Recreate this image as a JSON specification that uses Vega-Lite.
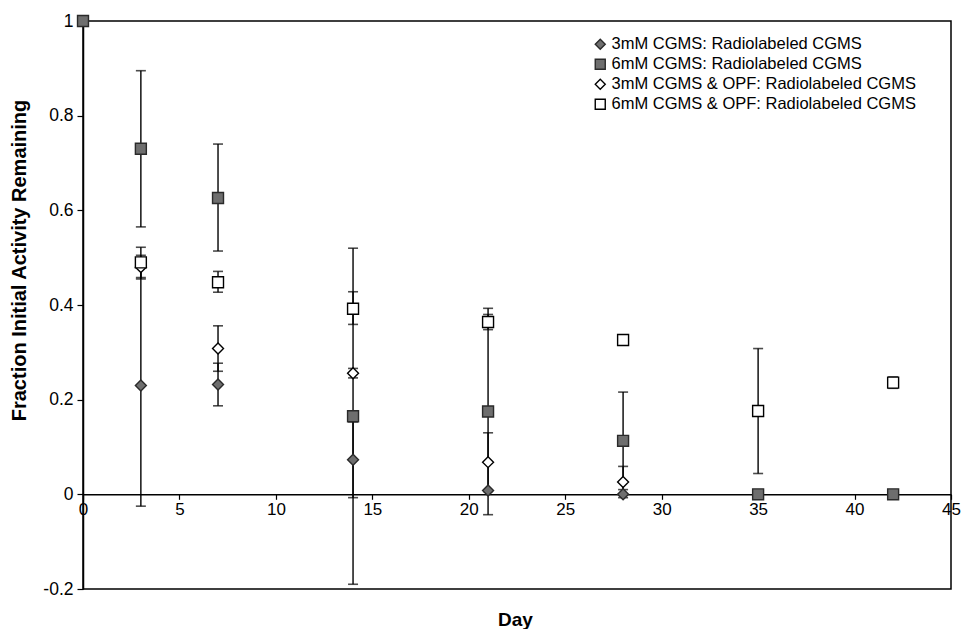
{
  "$schema": "https://vega.github.io/schema/vega-lite/v6.json",
  "autosize": "none",
  "width": 868,
  "height": 568,
  "padding": {"left": 83, "top": 21, "right": 11, "bottom": 40},
  "background": "white",
  "config": {
    "view": {"stroke": "black", "strokeWidth": 1.5},
    "font": "Liberation Sans",
    "axis": {"grid": false, "domainColor": "black", "tickColor": "black", "labelColor": "black", "titleColor": "black", "labelFont": "Liberation Sans", "titleFont": "Liberation Sans", "domainWidth": 1.5, "tickWidth": 1.2}
  },
  "data": {
    "values": [
      {"day": 3, "series": "3mM CGMS: Radiolabeled CGMS", "value": 0.23, "lo": -0.025, "hi": 0.485},
      {"day": 7, "series": "3mM CGMS: Radiolabeled CGMS", "value": 0.232, "lo": 0.187, "hi": 0.277},
      {"day": 14, "series": "3mM CGMS: Radiolabeled CGMS", "value": 0.073, "lo": -0.007, "hi": 0.153},
      {"day": 21, "series": "3mM CGMS: Radiolabeled CGMS", "value": 0.008},
      {"day": 28, "series": "3mM CGMS: Radiolabeled CGMS", "value": 0.0},
      {"day": 0, "series": "6mM CGMS: Radiolabeled CGMS", "value": 1.0},
      {"day": 3, "series": "6mM CGMS: Radiolabeled CGMS", "value": 0.73, "lo": 0.565, "hi": 0.895},
      {"day": 7, "series": "6mM CGMS: Radiolabeled CGMS", "value": 0.626, "lo": 0.514, "hi": 0.74},
      {"day": 14, "series": "6mM CGMS: Radiolabeled CGMS", "value": 0.165, "lo": -0.19, "hi": 0.52},
      {"day": 21, "series": "6mM CGMS: Radiolabeled CGMS", "value": 0.175, "lo": -0.043, "hi": 0.393},
      {"day": 28, "series": "6mM CGMS: Radiolabeled CGMS", "value": 0.113, "lo": 0.01, "hi": 0.216},
      {"day": 35, "series": "6mM CGMS: Radiolabeled CGMS", "value": 0.0},
      {"day": 42, "series": "6mM CGMS: Radiolabeled CGMS", "value": 0.0},
      {"day": 3, "series": "3mM CGMS & OPF: Radiolabeled CGMS", "value": 0.48, "lo": 0.455, "hi": 0.505},
      {"day": 7, "series": "3mM CGMS & OPF: Radiolabeled CGMS", "value": 0.308, "lo": 0.26, "hi": 0.356},
      {"day": 14, "series": "3mM CGMS & OPF: Radiolabeled CGMS", "value": 0.256, "lo": 0.246, "hi": 0.266},
      {"day": 21, "series": "3mM CGMS & OPF: Radiolabeled CGMS", "value": 0.068, "lo": 0.006, "hi": 0.13},
      {"day": 28, "series": "3mM CGMS & OPF: Radiolabeled CGMS", "value": 0.026, "lo": -0.007, "hi": 0.059},
      {"day": 3, "series": "6mM CGMS & OPF: Radiolabeled CGMS", "value": 0.49, "lo": 0.458, "hi": 0.522},
      {"day": 7, "series": "6mM CGMS & OPF: Radiolabeled CGMS", "value": 0.448, "lo": 0.427, "hi": 0.471},
      {"day": 14, "series": "6mM CGMS & OPF: Radiolabeled CGMS", "value": 0.392, "lo": 0.359, "hi": 0.428},
      {"day": 21, "series": "6mM CGMS & OPF: Radiolabeled CGMS", "value": 0.364, "lo": 0.348, "hi": 0.38},
      {"day": 28, "series": "6mM CGMS & OPF: Radiolabeled CGMS", "value": 0.326},
      {"day": 35, "series": "6mM CGMS & OPF: Radiolabeled CGMS", "value": 0.176, "lo": 0.044, "hi": 0.308},
      {"day": 42, "series": "6mM CGMS & OPF: Radiolabeled CGMS", "value": 0.236, "lo": 0.224, "hi": 0.248}
    ]
  },
  "encoding": {
    "x": {
      "field": "day", "type": "quantitative",
      "scale": {"domain": [0, 45], "nice": false, "zero": false},
      "axis": {
        "title": "Day", "titleFontSize": 19, "titleFontWeight": "bold",
        "titleY": 116, "titleX": 432, "titleBaseline": "top",
        "values": [0, 5, 10, 15, 20, 25, 30, 35, 40, 45],
        "offset": -94.7, "tickSize": 5, "labelFontSize": 17, "labelPadding": 2,
        "labelFlush": false
      }
    }
  },
  "layer": [
    {
      "mark": {"type": "rule", "color": "black", "strokeWidth": 1.4},
      "encoding": {
        "y": {"field": "lo", "type": "quantitative",
          "scale": {"domain": [-0.2, 1], "nice": false, "zero": false},
          "axis": {
            "title": "Fraction Initial Activity Remaining", "titleFontSize": 20, "titleFontWeight": "bold",
            "titlePadding": 13, "titleY": 239,
            "values": [-0.2, 0, 0.2, 0.4, 0.6, 0.8, 1],
            "labelExpr": "replace(format(datum.value, '~g'), '\u2212', '-')",
            "tickSize": 6, "labelFontSize": 17.5, "labelPadding": 4
          }
        },
        "y2": {"field": "hi"}
      }
    },
    {
      "mark": {"type": "tick", "orient": "horizontal", "color": "black", "size": 10, "thickness": 1.6},
      "encoding": {"y": {"field": "lo", "type": "quantitative"}}
    },
    {
      "mark": {"type": "tick", "orient": "horizontal", "color": "black", "size": 10, "thickness": 1.6},
      "encoding": {"y": {"field": "hi", "type": "quantitative"}}
    },
    {
      "mark": {"type": "point", "size": 120, "strokeWidth": 1.4, "opacity": 1},
      "encoding": {
        "y": {"field": "value", "type": "quantitative"},
        "shape": {"field": "series", "type": "nominal",
          "scale": {"domain": ["3mM CGMS: Radiolabeled CGMS", "6mM CGMS: Radiolabeled CGMS", "3mM CGMS & OPF: Radiolabeled CGMS", "6mM CGMS & OPF: Radiolabeled CGMS"],
            "range": ["diamond", "square", "diamond", "square"]},
          "legend": {"title": null, "orient": "none", "legendX": 509, "legendY": 15, "labelFontSize": 16.5, "labelLimit": 400, "symbolSize": 100, "rowPadding": 3, "symbolStrokeWidth": 1.4, "padding": 0, "labelOffset": 3}
        },
        "fill": {"field": "series", "type": "nominal",
          "scale": {"domain": ["3mM CGMS: Radiolabeled CGMS", "6mM CGMS: Radiolabeled CGMS", "3mM CGMS & OPF: Radiolabeled CGMS", "6mM CGMS & OPF: Radiolabeled CGMS"],
            "range": ["#6e6e6e", "#6e6e6e", "white", "white"]},
          "legend": null
        },
        "stroke": {"field": "series", "type": "nominal",
          "scale": {"domain": ["3mM CGMS: Radiolabeled CGMS", "6mM CGMS: Radiolabeled CGMS", "3mM CGMS & OPF: Radiolabeled CGMS", "6mM CGMS & OPF: Radiolabeled CGMS"],
            "range": ["#2a2a2a", "#2a2a2a", "black", "black"]},
          "legend": null
        }
      }
    }
  ]
}
